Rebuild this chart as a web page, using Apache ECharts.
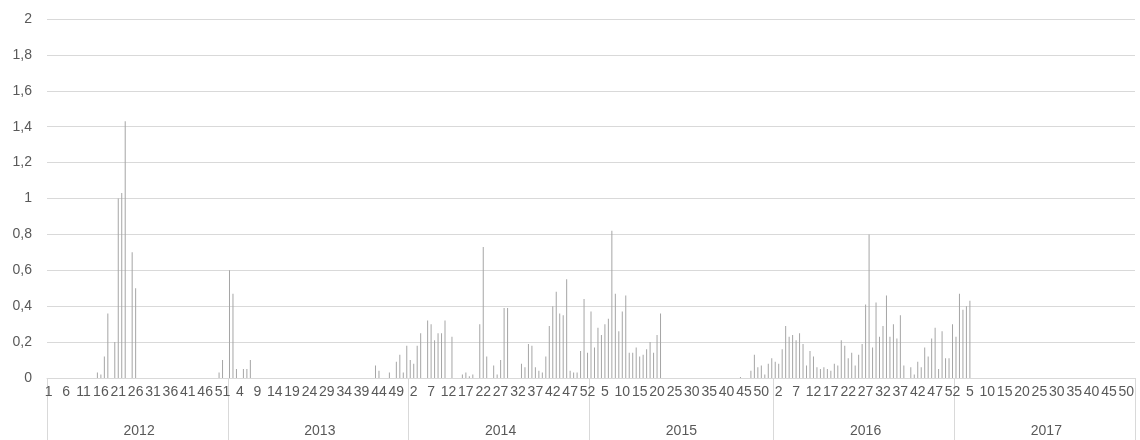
<!DOCTYPE html>
<html>
  <head>
    <meta charset="utf-8" />
    <title>weekly chart</title>
    <script src="https://cdn.jsdelivr.net/npm/echarts@6/dist/echarts.min.js"></script>
    <style>
      html, body { margin: 0; padding: 0; background: #fff; }
      #chart { width: 1140px; height: 440px; }
    </style>
  </head>

  <body>
    <div id="chart"></div>
    <script type="text/javascript">
      // weekly values per year (week 1 .. last week)
      var years = ["2012", "2013", "2014", "2015", "2016", "2017"];
      var y2012 = [0,0,0,0,0,0,0,0,0,0, 0,0,0,0,0.03,0.02,0.12,0.36,0,0.2,
        1.0,1.03,1.43,0,0.7,0.5,0,0,0,0, 0,0,0,0,0,0,0,0,0,0,
        0,0,0,0,0,0,0,0,0,0.03, 0.1,0];
      var y2013 = [0.6,0.47,0.05,0,0.05,0.05,0.1,0,0,0, 0,0,0,0,0,0,0,0,0,0,
        0,0,0,0,0,0,0,0,0,0, 0,0,0,0,0,0,0,0,0,0,
        0,0,0.07,0.04,0,0,0.03,0,0.09,0.13, 0.03,0.18];
      var y2014 = [0.1,0.08,0.18,0.25,0,0.32,0.3,0.21,0.25,0.25,
        0.32,0,0.23,0,0,0.02,0.03,0.01,0.02,0,
        0.3,0.73,0.12,0,0.07,0.02,0.1,0.39,0.39,0,
        0,0,0.08,0.06,0.19,0.18,0.06,0.04,0.03,0.12,
        0.29,0.4,0.48,0.36,0.35,0.55,0.04,0.03,0.03,0.15,
        0.44,0.14];
      var y2015 = [0.37,0.17,0.28,0.24,0.3,0.33,0.82,0.47,0.26,0.37,
        0.46,0.14,0.14,0.17,0.12,0.13,0.16,0.2,0.14,0.24,
        0.36,0,0,0,0,0,0,0,0,0, 0,0,0,0,0,0,0,0,0,0,
        0,0,0,0.005,0,0,0.04,0.13,0.06,0.07,
        0.02,0.08,0.11];
      var y2016 = [0.09,0.08,0.16,0.29,0.23,0.24,0.21,0.25,0.19,0.07,
        0.15,0.12,0.06,0.05,0.06,0.05,0.04,0.08,0.07,0.21,
        0.18,0.11,0.14,0.07,0.13,0.19,0.41,0.8,0.17,0.42,
        0.23,0.29,0.46,0.23,0.3,0.22,0.35,0.07,0,0.06,
        0.02,0.09,0.06,0.17,0.12,0.22,0.28,0.05,0.26,0.11,
        0.11,0.3];
      var y2017 = [0.23,0.47,0.38,0.4,0.43,0,0,0,0,0, 0,0,0,0,0,0,0,0,0,0,
        0,0,0,0,0,0,0,0,0,0, 0,0,0,0,0,0,0,0,0,0,
        0,0,0,0,0,0,0,0,0,0, 0,0];
      var yearData = [y2012, y2013, y2014, y2015, y2016, y2017];

      // flatten into one category list "year|week"
      var categories = [];
      var values = [];
      var yearStart = {};
      var yearMiddle = {};
      yearData.forEach(function (arr, k) {
        yearStart[categories.length] = true;
        yearMiddle[categories.length + Math.floor(arr.length / 2)] = years[k];
        arr.forEach(function (v, w) {
          categories.push(years[k] + "|" + (w + 1));
          values.push(v);
        });
      });

      var grey = "#595959";
      var lineCol = "#d9d9d9";
      var font = "Liberation Sans";

      var myChart = echarts.init(document.getElementById("chart"));
      myChart.setOption({
        animation: false,
        grid: { left: 47, right: 5, top: 19, bottom: 62, containLabel: false },
        xAxis: [
          {
            type: "category",
            data: categories,
            axisLine: { lineStyle: { color: lineCol, width: 1 } },
            axisTick: {
              show: true,
              length: 62,
              interval: function (i) { return !!yearStart[i]; },
              lineStyle: { color: lineCol, width: 1 },
            },
            axisLabel: {
              interval: 4,
              margin: 7,
              color: grey,
              fontFamily: font,
              fontSize: 14,
              formatter: function (v) { return v.split("|")[1]; },
            },
          },
          {
            type: "category",
            data: categories,
            position: "bottom",
            axisLine: { show: false },
            axisTick: { show: false },
            axisLabel: {
              interval: 0,
              margin: 46,
              color: grey,
              fontFamily: font,
              fontSize: 14,
              formatter: function (v, i) { return yearMiddle[i] || ""; },
            },
          },
        ],
        yAxis: {
          type: "value",
          min: 0,
          max: 2,
          interval: 0.2,
          axisLine: { show: false },
          axisTick: { show: false },
          splitLine: { lineStyle: { color: lineCol, width: 1 } },
          axisLabel: {
            margin: 15,
            color: grey,
            fontFamily: font,
            fontSize: 14,
            formatter: function (v) { return String(+v.toFixed(1)).replace(".", ","); },
          },
        },
        series: [
          {
            type: "bar",
            xAxisIndex: 0,
            data: values,
            barWidth: 1,
            itemStyle: { color: "#a5a5a5" },
          },
        ],
      });
    </script>
  </body>
</html>
